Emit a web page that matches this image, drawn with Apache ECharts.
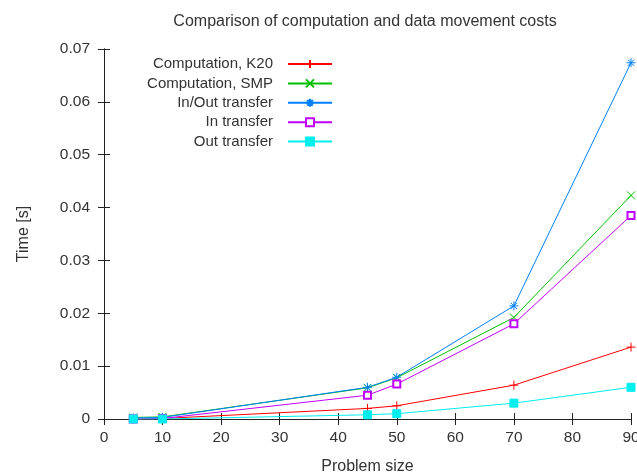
<!DOCTYPE html>
<html>
<head>
<meta charset="utf-8">
<script src="https://cdn.jsdelivr.net/npm/echarts@6/dist/echarts.min.js"></script>
<style>
  html, body { margin: 0; padding: 0; background: #fff; }
  #chart { width: 637px; height: 474px; }
</style>
</head>
<body>
<div id="chart"></div>
<script>
// problem sizes on the x axis
var problemSizes = [5, 10, 45, 50, 70, 90];

// times in seconds
var computationK20 = [0.0000, 0.0001, 0.0020, 0.0025, 0.0064, 0.0136];
var computationSMP = [0.0003, 0.0004, 0.0059, 0.0078, 0.0192, 0.0423];
var inOutTransfer  = [0.0002, 0.0003, 0.0060, 0.0079, 0.0214, 0.0674];
var inTransfer     = [0.0000, 0.0001, 0.0045, 0.0066, 0.0180, 0.0385];
var outTransfer    = [0.0000, 0.0000, 0.0008, 0.0010, 0.0030, 0.0060];

var seriesNames = ['Computation, K20', 'Computation, SMP', 'In/Out transfer', 'In transfer', 'Out transfer'];

var FONT = 'Liberation Sans';
var TEXT = '#333';
var AXIS = '#222';

function pairs(ys) {
    return problemSizes.map(function (x, i) { return [x, ys[i]]; });
}

// gnuplot-like point types
var PLUS = 'path://M0,5L10,5M5,0L5,10';
var CROSS = 'path://M0,0L10,10M0,10L10,0';
var STAR = 'path://M0,5L10,5M5,0L5,10M1.5,1.5L8.5,8.5M1.5,8.5L8.5,1.5';

function makeSeries(name, ys, color, symbol, size) {
    return {
        name: name,
        type: 'line',
        data: pairs(ys),
        symbol: symbol,
        symbolSize: size,
        showAllSymbol: true,
        lineStyle: { color: color, width: 1 },
        itemStyle: { color: color, borderColor: color, borderWidth: 1 },
        emphasis: { disabled: true },
        animation: false
    };
}

var tickStyle = { show: true, inside: true, length: 6, lineStyle: { color: AXIS } };
var lineStyle = { show: true, lineStyle: { color: AXIS, width: 1 } };

var option = {
    backgroundColor: '#fff',
    animation: false,
    title: {
        text: 'Comparison of computation and data movement costs',
        left: 365,
        top: 14,
        textAlign: 'center',
        padding: 0,
        textStyle: { fontFamily: FONT, fontSize: 16, fontWeight: 'normal', color: TEXT }
    },
    grid: { left: 104, right: 6, top: 49, bottom: 55, outerBoundsMode: 'none', containLabel: false },
    legend: {
        data: seriesNames,
        orient: 'vertical',
        align: 'right',
        right: 304,
        top: 56.5,
        padding: 0,
        itemWidth: 44,
        itemHeight: 10,
        itemGap: 4.4,
        textStyle: { fontFamily: FONT, fontSize: 15, color: TEXT, padding: [0, 10, 0, 0] }
    },
    xAxis: [{
        type: 'value',
        min: 0, max: 90, interval: 10,
        name: 'Problem size',
        nameLocation: 'middle',
        nameGap: 40,
        nameTextStyle: { fontFamily: FONT, fontSize: 16, color: TEXT, verticalAlign: 'top' },
        axisLine: lineStyle,
        axisTick: tickStyle,
        splitLine: { show: false },
        axisLabel: { fontFamily: FONT, fontSize: 15.5, color: TEXT, margin: 11 }
    }, {
        type: 'value',
        position: 'top',
        min: 0, max: 90, interval: 10,
        axisLine: lineStyle,
        axisTick: tickStyle,
        splitLine: { show: false },
        axisLabel: { show: false }
    }],
    yAxis: [{
        type: 'value',
        min: 0, max: 0.07, interval: 0.01,
        name: 'Time [s]',
        nameLocation: 'middle',
        nameGap: 72,
        nameTextStyle: { fontFamily: FONT, fontSize: 16, color: TEXT },
        axisLine: lineStyle,
        axisTick: tickStyle,
        splitLine: { show: false },
        axisLabel: {
            fontFamily: FONT, fontSize: 15.5, color: TEXT, margin: 14,
            formatter: function (v) { return v === 0 ? '0' : v.toFixed(2); }
        }
    }, {
        type: 'value',
        position: 'right',
        min: 0, max: 0.07, interval: 0.01,
        axisLine: lineStyle,
        axisTick: tickStyle,
        splitLine: { show: false },
        axisLabel: { show: false }
    }],
    series: [
        makeSeries(seriesNames[0], computationK20, '#ff0000', PLUS, 9),
        makeSeries(seriesNames[1], computationSMP, '#00c000', CROSS, 8),
        makeSeries(seriesNames[2], inOutTransfer, '#0080ff', STAR, 9),
        makeSeries(seriesNames[3], inTransfer, '#c000ff', 'emptyRect', 7),
        makeSeries(seriesNames[4], outTransfer, '#00eeee', 'rect', 8)
    ]
};

var chart = echarts.init(document.getElementById('chart'));
chart.setOption(option);
</script>
</body>
</html>
